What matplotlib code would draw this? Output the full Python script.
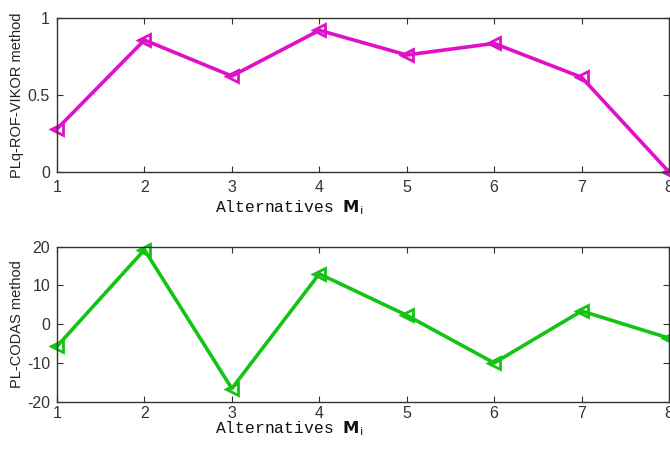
import matplotlib
matplotlib.use("Agg")
import matplotlib.pyplot as plt

alternatives = [1, 2, 3, 4, 5, 6, 7, 8]
vikor_values = [0.28, 0.857, 0.623, 0.92, 0.76, 0.835, 0.615, 0.0]
codas_values = [-5.7, 19.2, -16.6, 13.0, 2.3, -10.0, 3.4, -3.6]
vikor_ticks = [0, 0.5, 1]
vikor_ticklabels = ["0", "0.5", "1"]
codas_ticks = [-20, -10, 0, 10, 20]

W, H = 670, 449
plt.rcParams['font.family'] = ['Liberation Sans', 'DejaVu Sans']
plt.rcParams['axes.unicode_minus'] = False
fig = plt.figure(figsize=(W / 100, H / 100), dpi=100)

left = 57 / W
width = (669 - 57) / W
ax1 = fig.add_axes([left, 1 - 172 / H, width, 154 / H])
ax2 = fig.add_axes([left, 1 - 401.7 / H, width, 155 / H])

def style(ax, ylabel, xpad, xlabel_y):
    ax.set_xlim(1, 8)
    ax.set_xticks(alternatives)
    ax.tick_params(direction='in', length=4, width=0.8, labelsize=11.5, colors='#333333',
                   top=True, right=True)
    ax.tick_params(axis='x', pad=xpad)
    ax.tick_params(axis='y', pad=5)
    for s in ax.spines.values():
        s.set_linewidth(1.0)
        s.set_color('#333333')
    ax.set_ylabel(ylabel, fontsize=10.5, color='#222222')
    ax.yaxis.set_label_coords(-(57 - 24) / 612, 0.5)
    ax.set_xlabel(r"Alternatives $\mathbf{M}_{\mathrm{i}}$", fontsize=11.8,
                  family=['Liberation Mono', 'DejaVu Sans'], color='#111111')
    ax.xaxis.set_label_coords((289 - 57) / 612, xlabel_y)

ax1.plot(alternatives, vikor_values, color='#e010c8', linewidth=2.6, marker='<',
         markersize=8.5, markerfacecolor='none', markeredgewidth=2.0, clip_on=False)
ax1.set_ylim(0, 1)
ax1.set_yticks(vikor_ticks)
ax1.set_yticklabels(vikor_ticklabels)
style(ax1, "PLq-ROF-VIKOR method", 6, -0.17)

ax2.plot(alternatives, codas_values, color='#14c414', linewidth=2.6, marker='<',
         markersize=8.5, markerfacecolor='none', markeredgewidth=2.0, clip_on=False)
ax2.set_ylim(-20, 20)
ax2.set_yticks(codas_ticks)
style(ax2, "PL-CODAS method", 3, -0.115)

fig.savefig("out.png", dpi=100)
